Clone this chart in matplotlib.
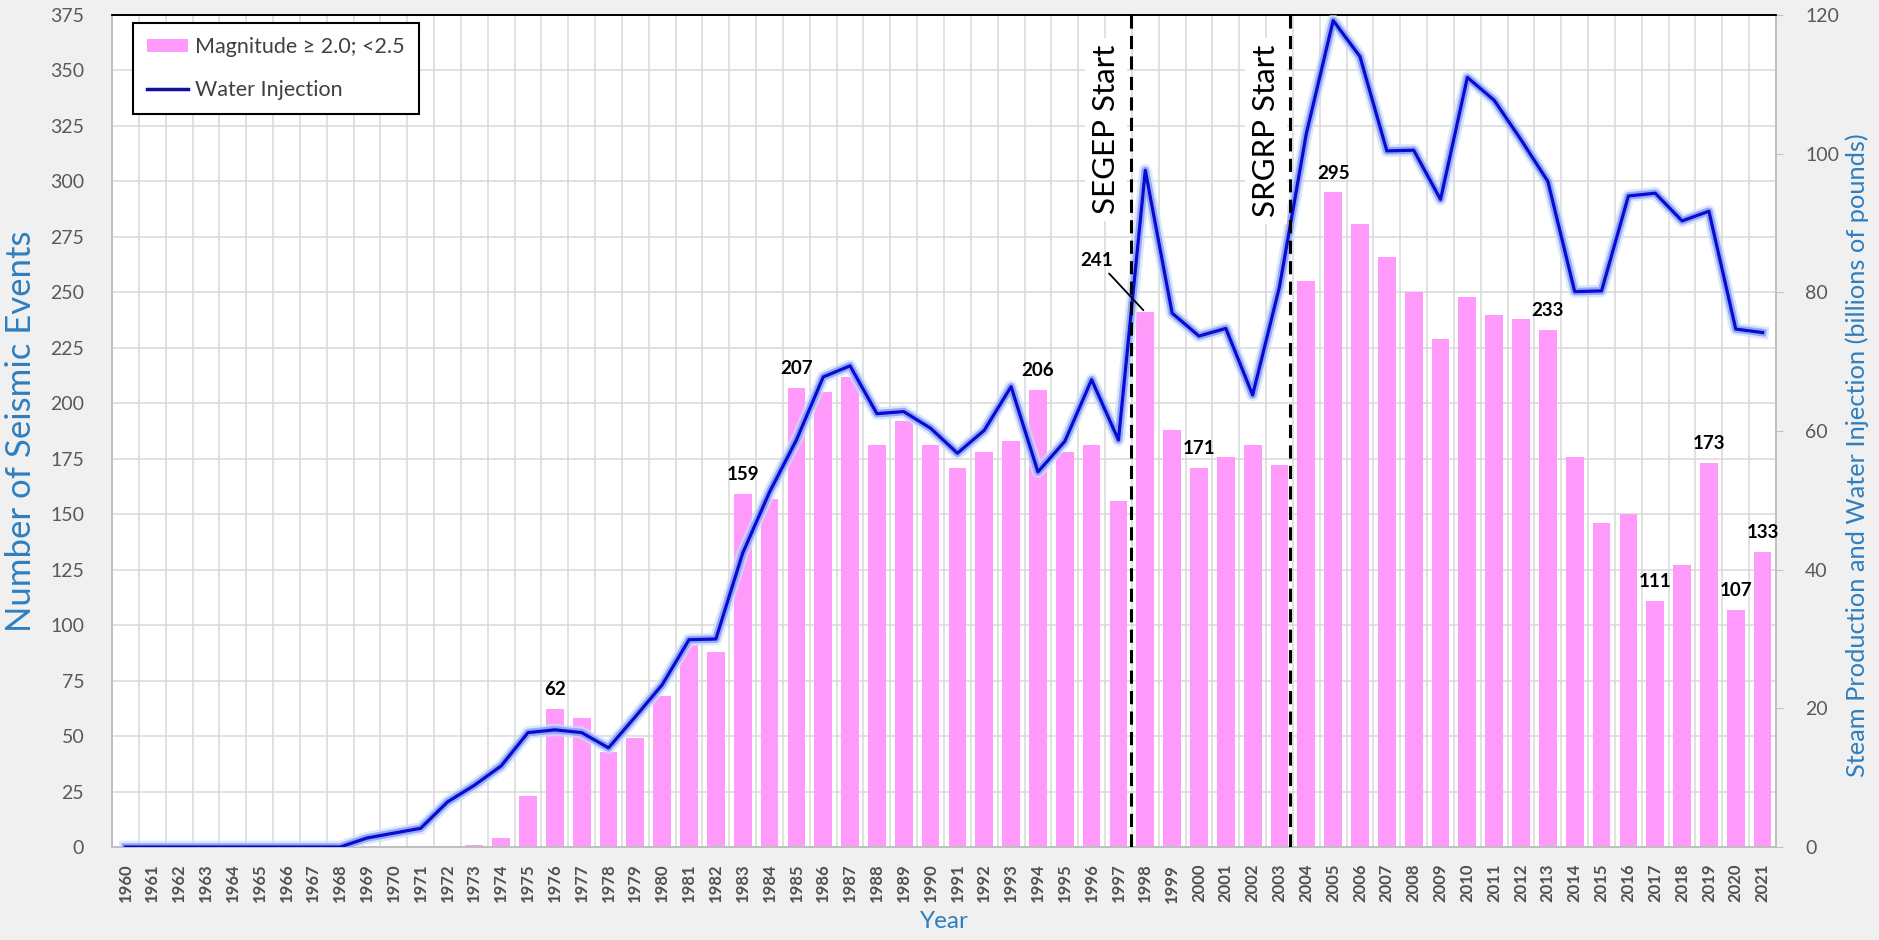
import matplotlib
matplotlib.use('Agg')
import matplotlib.pyplot as plt
import matplotlib.patheffects as pe
from matplotlib.patches import Patch
from matplotlib.lines import Line2D
import numpy as np

plt.rcParams['font.family'] = ['Lato', 'DejaVu Sans']

# ---------------- data ----------------
years = list(range(1960, 2022))
seismic_events = [0, 0, 0, 0, 0, 0, 0, 0, 0, 0, 0, 0, 0,
                  1, 4, 23, 62, 58, 43, 49, 68, 91, 88,
                  159, 157, 207, 205, 212, 181, 192, 181, 171, 178,
                  183, 206, 178, 181, 156, 241, 188, 171, 176, 181,
                  172, 255, 295, 281, 266, 250, 229, 248, 240, 238,
                  233, 176, 146, 150, 111, 127, 173, 107, 133]
water_injection = [0, 0, 0, 0, 0, 0, 0, 0, 0,
                   1.3, 2.0, 2.7, 6.5, 8.9, 11.7, 16.5, 16.9, 16.5, 14.3,
                   18.8, 23.4, 29.9, 30.0, 42.4, 51.2, 58.7, 67.8, 69.4, 62.5,
                   62.8, 60.4, 56.8, 60.1, 66.4, 54.1, 58.5, 67.4, 58.7, 97.6,
                   77.0, 73.7, 74.8, 65.2, 80.8, 102.9, 119.2, 114.0, 100.4, 100.5,
                   93.4, 111.0, 107.7, 102.0, 96.0, 80.1, 80.2, 93.9, 94.3, 90.3,
                   91.7, 74.7, 74.2]
labeled_years = [1976, 1983, 1985, 1994, 2000, 2005, 2013, 2017, 2019, 2020, 2021]
callout_year = 1998
left_ticks = [0, 25, 50, 75, 100, 125, 150, 175, 200, 225, 250, 275, 300, 325, 350, 375]
right_ticks = [0, 20, 40, 60, 80, 100, 120]
segep_pos = 37.45   # category position (between 1997 and 1998)
srgrp_pos = 43.40   # category position (between 2003 and 2004)
series_names = ['Magnitude \u2265 2.0; <2.5', 'Water Injection']

# ---------------- style ----------------
BAR = '#ff99fa'
LINE = '#0a0ad2'
GRAY = '#595959'
GRID = '#d9d9d9'
BLUE = '#2e7fc0'

W, H = 1879, 940
fig = plt.figure(figsize=(W / 100, H / 100), dpi=100)
fig.patch.set_facecolor('#f0f0f0')
L, R, T, B = 112, 1776, 15, 847
ax = fig.add_axes([L / W, 1 - B / H, (R - L) / W, (B - T) / H])
ax.set_facecolor('white')

x = np.arange(len(years))
ax.bar(x, seismic_events, width=0.66, color=BAR, zorder=2)
ax.set_xlim(-0.5, len(years) - 0.5)
ax.set_ylim(left_ticks[0], left_ticks[-1])
ax.set_yticks(left_ticks)
ax.set_xticks(x)
ax.set_xticklabels([str(y) for y in years], rotation=90, fontweight='bold',
                   fontsize=12, color='#505050')
ax.set_xticks(np.arange(len(years) + 1) - 0.5, minor=True)
ax.grid(True, which='minor', axis='x', color=GRID, lw=1.1)
ax.grid(True, which='major', axis='y', color=GRID, lw=1.1)
ax.set_axisbelow(True)
ax.tick_params(axis='x', which='both', length=0, pad=12)
ax.tick_params(axis='y', length=0, pad=20, labelsize=14, labelcolor=GRAY)

ax2 = ax.twinx()
ax2.set_ylim(right_ticks[0], right_ticks[-1])
ax2.set_yticks(right_ticks)
ax2.tick_params(axis='y', length=5, color='#bfbfbf', pad=16, labelsize=14, labelcolor=GRAY)
ax2.plot(x, water_injection, color=LINE, lw=2.3, zorder=4,
         path_effects=[pe.Stroke(linewidth=9, foreground='#cfdcff', alpha=0.7),
                       pe.Stroke(linewidth=5.5, foreground='#7f9cf2', alpha=0.8),
                       pe.Normal()])

for a in (ax, ax2):
    for s in ('left', 'right', 'bottom'):
        a.spines[s].set_color('#bfbfbf')
        a.spines[s].set_linewidth(1.2)
    a.spines['top'].set_color('black')
    a.spines['top'].set_linewidth(1.3)

# vertical dashed markers
for pos, txt in ((segep_pos, 'SEGEP Start'), (srgrp_pos, 'SRGRP Start')):
    ax2.axvline(pos, color='black', lw=2.2, dashes=(4.3, 2.4), zorder=6)
    ax2.text(pos - 0.38, 115.7, txt, rotation=90, ha='right', va='top',
             fontsize=22.5, color='black', zorder=7,
             bbox=dict(facecolor='white', edgecolor='none', pad=5))

# data labels
for yr in labeled_years:
    i = years.index(yr)
    v = seismic_events[i]
    ax2.annotate(str(v), xy=(i, v), xycoords=ax.transData, xytext=(0, 14),
                 textcoords='offset points', ha='center', va='center',
                 fontsize=13.5, fontweight='bold', color='black', zorder=8)
ic = years.index(callout_year)
ax2.annotate(str(seismic_events[ic]), xy=(ic, seismic_events[ic]), xycoords=ax.transData,
             xytext=(-35, 37.5), textcoords='offset points', ha='center', va='center',
             fontsize=13.5, fontweight='bold', color='black', zorder=8,
             arrowprops=dict(arrowstyle='-', color='black', lw=1.3, shrinkA=2, shrinkB=2))

# legend
handles = [Patch(facecolor=BAR, edgecolor='none'), Line2D([], [], color='#10109a', lw=2.5)]
leg = ax2.legend(handles, series_names, loc='upper left',
                 bbox_to_anchor=((133 - L) / (R - L), (B - 23) / (B - T)),
                 frameon=True, fancybox=False, edgecolor='black', framealpha=1,
                 fontsize=15.5, handlelength=1.9, handleheight=0.55, labelspacing=1.05,
                 borderpad=0.65, borderaxespad=0, handletextpad=0.35)
leg.get_frame().set_linewidth(1.5)
leg.set_zorder(10)
for t in leg.get_texts():
    t.set_color('#404040')

# axis titles
fig.text(21 / W, 1 - 431 / H, 'Number of Seismic Events', rotation=90, ha='center',
         va='center', fontsize=25, color=BLUE)
fig.text(1857 / W, 1 - 455 / H, 'Steam Production and Water Injection (billions of pounds)',
         rotation=90, ha='center', va='center', fontsize=18.3, color=BLUE)
fig.text((L + R) / 2 / W, 1 - 922 / H, 'Year', ha='center', va='center',
         fontsize=17.5, color=BLUE)

fig.savefig('out.png', dpi=100, facecolor=fig.get_facecolor())
